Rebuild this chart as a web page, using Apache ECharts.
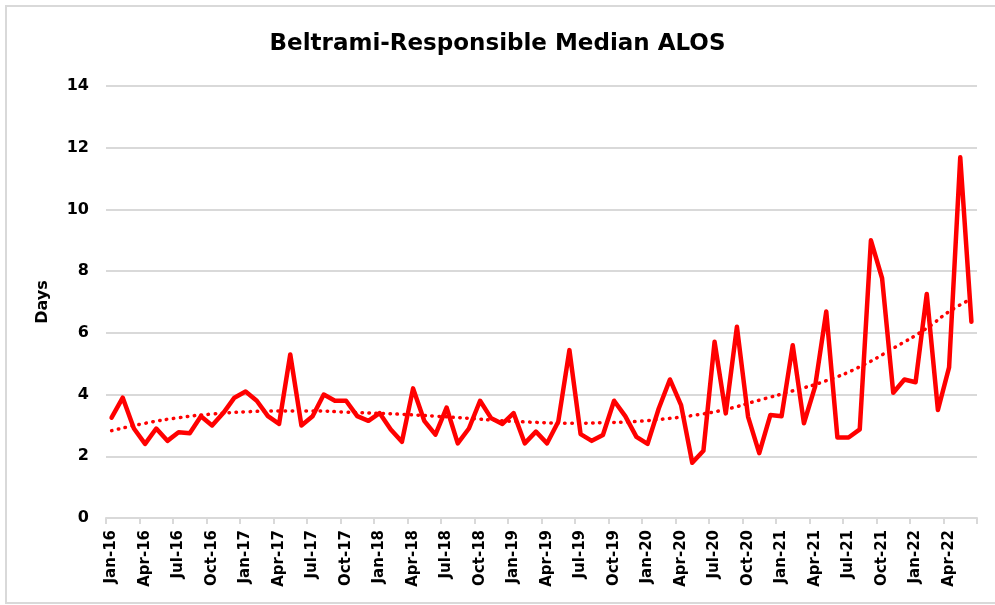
<!DOCTYPE html>
<html>
<head>
<meta charset="utf-8">
<script src="https://cdn.jsdelivr.net/npm/echarts@6/dist/echarts.min.js"></script>
<style>
html,body{margin:0;padding:0;background:#fff;}
#chart{width:995px;height:605px;}
</style>
</head>
<body>
<div id="chart"></div>
<script>
var months = [
  'Jan-16','Feb-16','Mar-16','Apr-16','May-16','Jun-16','Jul-16','Aug-16','Sep-16','Oct-16','Nov-16','Dec-16',
  'Jan-17','Feb-17','Mar-17','Apr-17','May-17','Jun-17','Jul-17','Aug-17','Sep-17','Oct-17','Nov-17','Dec-17',
  'Jan-18','Feb-18','Mar-18','Apr-18','May-18','Jun-18','Jul-18','Aug-18','Sep-18','Oct-18','Nov-18','Dec-18',
  'Jan-19','Feb-19','Mar-19','Apr-19','May-19','Jun-19','Jul-19','Aug-19','Sep-19','Oct-19','Nov-19','Dec-19',
  'Jan-20','Feb-20','Mar-20','Apr-20','May-20','Jun-20','Jul-20','Aug-20','Sep-20','Oct-20','Nov-20','Dec-20',
  'Jan-21','Feb-21','Mar-21','Apr-21','May-21','Jun-21','Jul-21','Aug-21','Sep-21','Oct-21','Nov-21','Dec-21',
  'Jan-22','Feb-22','Mar-22','Apr-22','May-22','Jun-22'
];

var medianALOS = [
  3.25,3.9,2.9,2.4,2.9,2.5,2.78,2.75,3.3,3.0,3.4,3.9,
  4.1,3.8,3.3,3.05,5.3,3.0,3.3,4.0,3.8,3.8,3.3,3.15,
  3.4,2.87,2.47,4.2,3.15,2.7,3.58,2.42,2.9,3.8,3.23,3.05,
  3.4,2.42,2.8,2.42,3.12,5.44,2.72,2.5,2.69,3.8,3.3,2.63,
  2.4,3.55,4.49,3.66,1.79,2.18,5.71,3.39,6.2,3.28,2.1,3.34,
  3.3,5.6,3.07,4.26,6.69,2.61,2.61,2.87,9.0,7.77,4.06,4.49,
  4.4,7.26,3.5,4.88,11.69,6.36
];

// trend line values at these months
var trendMonths = ['Jan-16','Apr-16','Jul-16','Oct-16','Jan-17','Apr-17','Jul-17','Oct-17','Jan-18','Mar-18',
  'Jun-18','Sep-18','Dec-18','Mar-19','Jun-19','Sep-19','Dec-19','Mar-20','May-20','Aug-20','Nov-20',
  'Feb-21','May-21','Aug-21','Nov-21','Feb-22','Apr-22','Jun-22'];
var trendValues = [2.83,3.07,3.25,3.37,3.44,3.47,3.47,3.43,3.39,3.36,
  3.30,3.23,3.15,3.10,3.07,3.09,3.13,3.23,3.32,3.52,3.82,
  4.12,4.45,4.9,5.5,6.15,6.69,7.1];

var yTicks = {min: 0, max: 14, interval: 2};

var FONT = '"DejaVu Sans", "Liberation Sans", sans-serif';
var chart = echarts.init(document.getElementById('chart'), null, {renderer: 'canvas'});
var trendData = trendMonths.map(function (m, i) { return [m, trendValues[i]]; });

chart.setOption({
  backgroundColor: '#ffffff',
  animation: false,
  graphic: [{
    type: 'rect',
    shape: {x: 6, y: 6, width: 1000, height: 597},
    style: {fill: 'none', stroke: '#d9d9d9', lineWidth: 2},
    silent: true
  }],
  title: {
    text: 'Beltrami-Responsible Median ALOS',
    left: 'center',
    top: 28,
    textStyle: {fontFamily: FONT, fontWeight: 'bold', fontSize: 23, color: '#000'}
  },
  grid: {left: 106, right: 18, top: 86, bottom: 87, containLabel: false},
  xAxis: {
    type: 'category',
    data: months,
    boundaryGap: true,
    axisLine: {lineStyle: {color: '#d9d9d9', width: 2}},
    axisTick: {show: true, interval: 2, length: 6, lineStyle: {color: '#d9d9d9', width: 2}},
    axisLabel: {
      interval: 2, rotate: 90, margin: 12,
      fontFamily: FONT, fontWeight: 'bold', fontSize: 15, color: '#000'
    },
    splitLine: {show: false}
  },
  yAxis: {
    type: 'value',
    min: yTicks.min, max: yTicks.max, interval: yTicks.interval,
    name: 'Days',
    nameLocation: 'middle',
    nameRotate: 90,
    nameGap: 55,
    nameTextStyle: {fontFamily: FONT, fontWeight: 'bold', fontSize: 16, color: '#000'},
    axisLine: {show: false},
    axisTick: {show: false},
    axisLabel: {margin: 17, fontFamily: FONT, fontWeight: 'bold', fontSize: 16, color: '#000'},
    splitLine: {lineStyle: {color: '#d9d9d9', width: 2}}
  },
  series: [
    {
      name: 'Median ALOS',
      type: 'line',
      data: medianALOS,
      symbol: 'none',
      lineStyle: {color: '#ff0000', width: 4.5, join: 'round', cap: 'round'},
      z: 2
    },
    {
      name: 'Trend',
      type: 'line',
      data: trendData,
      smooth: true,
      symbol: 'none',
      lineStyle: {color: '#ff0000', width: 3.5, type: [0.5, 6.5], cap: 'round'},
      z: 3
    }
  ]
});
</script>
</body>
</html>
